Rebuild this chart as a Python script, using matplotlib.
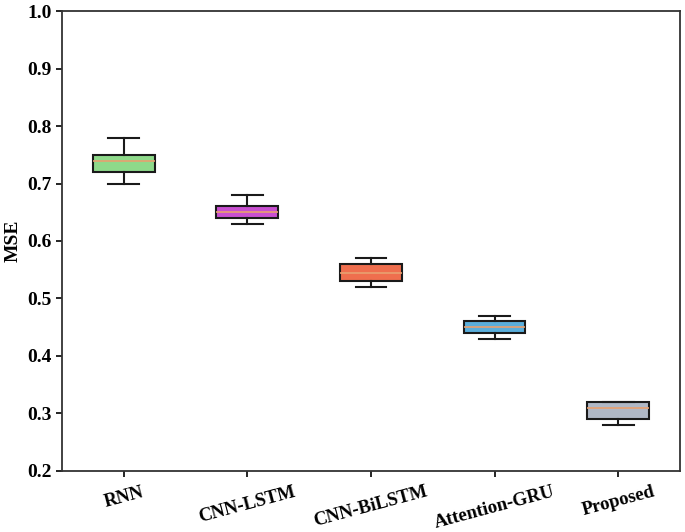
import matplotlib
matplotlib.use("Agg")
import matplotlib.pyplot as plt

models = ["RNN", "CNN-LSTM", "CNN-BiLSTM", "Attention-GRU", "Proposed"]
whislo = [0.70, 0.63, 0.52, 0.43, 0.28]
q1 = [0.72, 0.64, 0.53, 0.44, 0.29]
med = [0.74, 0.65, 0.545, 0.45, 0.31]
q3 = [0.75, 0.66, 0.56, 0.46, 0.32]
whishi = [0.78, 0.68, 0.57, 0.47, 0.32]
colors = ["#8ed98a", "#c84fd0", "#ef6e4e", "#5aaedb", "#b0b8c6"]

plt.rcParams["font.family"] = ["Liberation Serif", "DejaVu Serif"]
plt.rcParams["font.weight"] = "bold"

stats = []
for i, m in enumerate(models):
    stats.append(dict(label=m, whislo=whislo[i], q1=q1[i], med=med[i],
                      q3=q3[i], whishi=whishi[i], fliers=[]))

fig = plt.figure(figsize=(6.85, 5.32), dpi=100)
ax = fig.add_axes([0.0905, 0.1147, 0.9022, 0.8646])

bp = ax.bxp(stats, patch_artist=True, widths=0.5,
            boxprops=dict(linewidth=1.5, edgecolor="#1a1a1a"),
            whiskerprops=dict(linewidth=1.5, color="#1a1a1a"),
            capprops=dict(linewidth=1.5, color="#1a1a1a"),
            medianprops=dict(linewidth=1.2, color="#e8a070"))
for patch, c in zip(bp["boxes"], colors):
    patch.set_facecolor(c)

ax.set_ylim(0.2, 1.0)
ax.set_xlim(0.5, 5.5)
ax.set_yticks([0.2, 0.3, 0.4, 0.5, 0.6, 0.7, 0.8, 0.9, 1.0])
ax.set_ylabel("MSE", fontsize=14, fontweight="bold")
ax.tick_params(axis="y", labelsize=14, width=1.2, length=4)
ax.tick_params(axis="x", labelsize=13.5, width=1.2, length=4, pad=5)
plt.setp(ax.get_xticklabels(), rotation=15, fontweight="bold")
plt.setp(ax.get_yticklabels(), fontweight="bold")
for s in ax.spines.values():
    s.set_linewidth(1.3)
    s.set_color("#333333")

fig.savefig("out.png", dpi=100)
